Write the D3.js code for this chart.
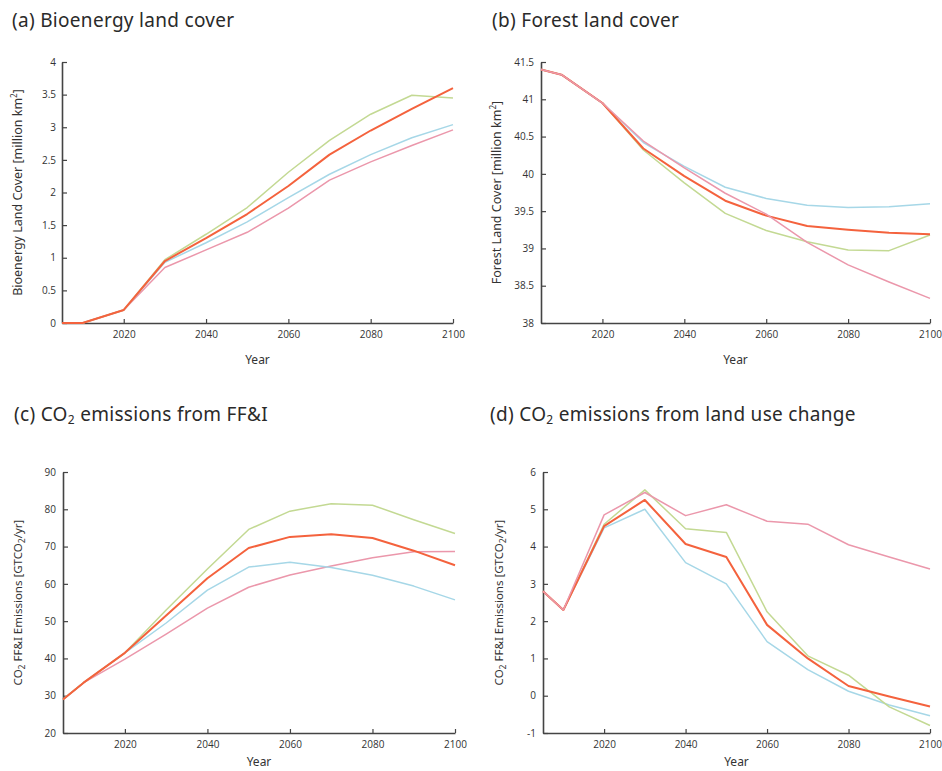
<!DOCTYPE html>
<html>
<head>
<meta charset="utf-8">
<script src="https://cdn.jsdelivr.net/npm/d3@7"></script>
<style>
  body { margin: 0; background: #fff; }
  svg { font-family: "Noto Sans", "DejaVu Sans", sans-serif; }
</style>
</head>
<body>
<svg width="942" height="771"></svg>
<script>
// years for every series (2005 then decades)
const years = [2005, 2010, 2020, 2030, 2040, 2050, 2060, 2070, 2080, 2090, 2100];
const xTicks = [2020, 2040, 2060, 2080, 2100];

// (a) bioenergy land cover, million km2
const bioGreen  = [0, 0, 0.2, 0.97, 1.36, 1.77, 2.31, 2.8, 3.2, 3.49, 3.45];
const bioOrange = [0, 0, 0.2, 0.95, 1.30, 1.67, 2.10, 2.58, 2.95, 3.28, 3.6];
const bioBlue   = [0, 0, 0.2, 0.93, 1.23, 1.55, 1.92, 2.28, 2.58, 2.84, 3.04];
const bioPink   = [0, 0, 0.2, 0.85, 1.12, 1.39, 1.76, 2.19, 2.47, 2.72, 2.96];
const bioTicks  = [0, 0.5, 1, 1.5, 2, 2.5, 3, 3.5, 4];

// (b) forest land cover, million km2
const forGreen  = [41.4, 41.33, 40.95, 40.32, 39.88, 39.47, 39.24, 39.09, 38.98, 38.97, 39.18];
const forOrange = [41.4, 41.33, 40.95, 40.34, 39.97, 39.64, 39.44, 39.30, 39.25, 39.21, 39.19];
const forBlue   = [41.4, 41.33, 40.95, 40.42, 40.10, 39.82, 39.67, 39.58, 39.55, 39.56, 39.60];
const forPink   = [41.4, 41.33, 40.95, 40.44, 40.08, 39.74, 39.46, 39.08, 38.78, 38.55, 38.33];
const forTicks  = [38, 38.5, 39, 39.5, 40, 40.5, 41, 41.5];

// (c) CO2 emissions from FF&I, GtCO2/yr
const ffiGreen  = [29, 33.5, 41.5, 53, 64, 74.6, 79.5, 81.5, 81.1, 77.2, 73.5];
const ffiOrange = [29, 33.5, 41.5, 51.5, 61.5, 69.6, 72.6, 73.3, 72.3, 68.9, 65];
const ffiBlue   = [29, 33.5, 41.5, 49.5, 58.3, 64.5, 65.8, 64.4, 62.3, 59.4, 55.7];
const ffiPink   = [29, 33.5, 39.8, 46.5, 53.5, 59.1, 62.4, 64.8, 67, 68.6, 68.7];
const ffiTicks  = [20, 30, 40, 50, 60, 70, 80, 90];

// (d) CO2 emissions from land use change, GtCO2/yr
const lucGreen  = [2.8, 2.3, 4.6, 5.52, 4.48, 4.38, 2.25, 1.07, 0.55, -0.3, -0.8];
const lucOrange = [2.8, 2.3, 4.55, 5.25, 4.07, 3.72, 1.9, 1.0, 0.26, -0.02, -0.29];
const lucBlue   = [2.8, 2.3, 4.5, 5.0, 3.57, 3.0, 1.45, 0.7, 0.12, -0.25, -0.54];
const lucPink   = [2.8, 2.3, 4.85, 5.45, 4.83, 5.12, 4.68, 4.6, 4.05, 3.72, 3.4];
const lucTicks  = [-1, 0, 1, 2, 3, 4, 5, 6];

const colGreen = "#c3d993", colOrange = "#f4623d", colBlue = "#a6d7e7", colPink = "#eb97ab";

const svg = d3.select("svg");

// one panel = one small line chart
function panel(o) {
  const x = d3.scaleLinear().domain([2005, 2100]).range([o.left, o.right]);
  const y = d3.scaleLinear().domain(o.domain).range([o.bottom, o.top]);
  const g = svg.append("g");

  // title
  const t = g.append("text").attr("x", o.tx).attr("y", o.ty)
    .attr("font-size", 19).attr("letter-spacing", 0.3).attr("fill", "#2a2a2a");
  o.title.forEach(p => {
    const s = t.append("tspan").text(p.t);
    if (p.sub) s.attr("font-size", 12).attr("dy", 3);
    if (p.up) s.attr("dy", -3);
  });

  const ax = g.append("g").attr("transform", `translate(0,${o.bottom})`)
    .call(d3.axisBottom(x).tickValues(xTicks).tickFormat(d3.format("d"))
      .tickSizeInner(-4).tickSizeOuter(0).tickPadding(8));
  const ay = g.append("g").attr("transform", `translate(${o.left},0)`)
    .call(d3.axisLeft(y).tickValues(o.ticks).tickFormat(d => d)
      .tickSizeInner(-5).tickSizeOuter(0).tickPadding(o.pad));
  [ax, ay].forEach(a => {
    a.select(".domain").attr("stroke", "#444").attr("stroke-width", 1.6);
    a.selectAll(".tick line").attr("stroke", "#444").attr("stroke-width", 1.2);
    a.selectAll(".tick text").attr("font-size", 10).attr("fill", "#333")
      .attr("font-family", "'Open Sans', sans-serif");
  });

  // axis titles
  g.append("text").attr("x", (o.left + o.right) / 2).attr("y", o.bottom + o.yearDy)
    .attr("text-anchor", "middle").attr("font-size", 12).attr("fill", "#333").text("Year");
  const yl = g.append("text")
    .attr("transform", `translate(${o.lx},${(o.top + o.bottom) / 2}) rotate(-90)`)
    .attr("text-anchor", "middle").attr("font-size", o.lsize).attr("fill", "#333");
  o.ylabel.forEach(p => {
    const s = yl.append("tspan").text(p.t);
    if (p.sub) s.attr("font-size", o.lsize * 0.75).attr("dy", 3);
    if (p.back) s.attr("dy", -3);
    if (p.sup) s.attr("font-size", o.lsize * 0.65).attr("dy", -5);
    if (p.back && p.fromSup) s.attr("dy", 5);
  });

  const line = d3.line().x((d, i) => x(years[i])).y(d => y(d));
  o.series.forEach(s => {
    g.append("path").datum(s.v).attr("d", line).attr("fill", "none")
      .attr("stroke", s.c).attr("stroke-width", s.w || 1.5)
      .attr("stroke-linejoin", "round");
  });
}

panel({
  left: 62, right: 453, top: 62, bottom: 323, domain: [0, 4], ticks: bioTicks, pad: 6,
  tx: 12, ty: 27, lx: 22, lsize: 12.5, yearDy: 41,
  title: [{ t: "(a) Bioenergy land cover" }],
  ylabel: [{ t: "Bioenergy Land Cover [million km" }, { t: "2", sup: true }, { t: "]", back: true, fromSup: true }],
  series: [
    { v: bioPink, c: colPink }, { v: bioBlue, c: colBlue },
    { v: bioGreen, c: colGreen }, { v: bioOrange, c: colOrange, w: 2 }
  ]
});

panel({
  left: 541, right: 930, top: 62, bottom: 323, domain: [38, 41.5], ticks: forTicks, pad: 7,
  tx: 492, ty: 27, lx: 501, lsize: 12.5, yearDy: 41,
  title: [{ t: "(b) Forest land cover" }],
  ylabel: [{ t: "Forest Land Cover [million km" }, { t: "2", sup: true }, { t: "]", back: true, fromSup: true }],
  series: [
    { v: forBlue, c: colBlue }, { v: forGreen, c: colGreen },
    { v: forOrange, c: colOrange, w: 2 }, { v: forPink, c: colPink }
  ]
});

panel({
  left: 63, right: 455, top: 472, bottom: 733, domain: [20, 90], ticks: ffiTicks, pad: 7,
  tx: 14, ty: 421, lx: 22, lsize: 11.5, yearDy: 33,
  title: [{ t: "(c) CO" }, { t: "2", sub: true }, { t: " emissions from FF&I", up: true }],
  ylabel: [{ t: "CO" }, { t: "2", sub: true }, { t: " FF&I Emissions [GTCO", back: true }, { t: "2", sub: true }, { t: "/yr]", back: true }],
  series: [
    { v: ffiPink, c: colPink }, { v: ffiBlue, c: colBlue },
    { v: ffiGreen, c: colGreen }, { v: ffiOrange, c: colOrange, w: 2 }
  ]
});

panel({
  left: 543, right: 930, top: 472, bottom: 733, domain: [-1, 6], ticks: lucTicks, pad: 7,
  tx: 490, ty: 421, lx: 503, lsize: 11.5, yearDy: 33,
  title: [{ t: "(d) CO" }, { t: "2", sub: true }, { t: " emissions from land use change", up: true }],
  ylabel: [{ t: "CO" }, { t: "2", sub: true }, { t: " FF&I Emissions [GTCO", back: true }, { t: "2", sub: true }, { t: "/yr]", back: true }],
  series: [
    { v: lucBlue, c: colBlue }, { v: lucGreen, c: colGreen },
    { v: lucOrange, c: colOrange, w: 2 }, { v: lucPink, c: colPink }
  ]
});
</script>
</body>
</html>
